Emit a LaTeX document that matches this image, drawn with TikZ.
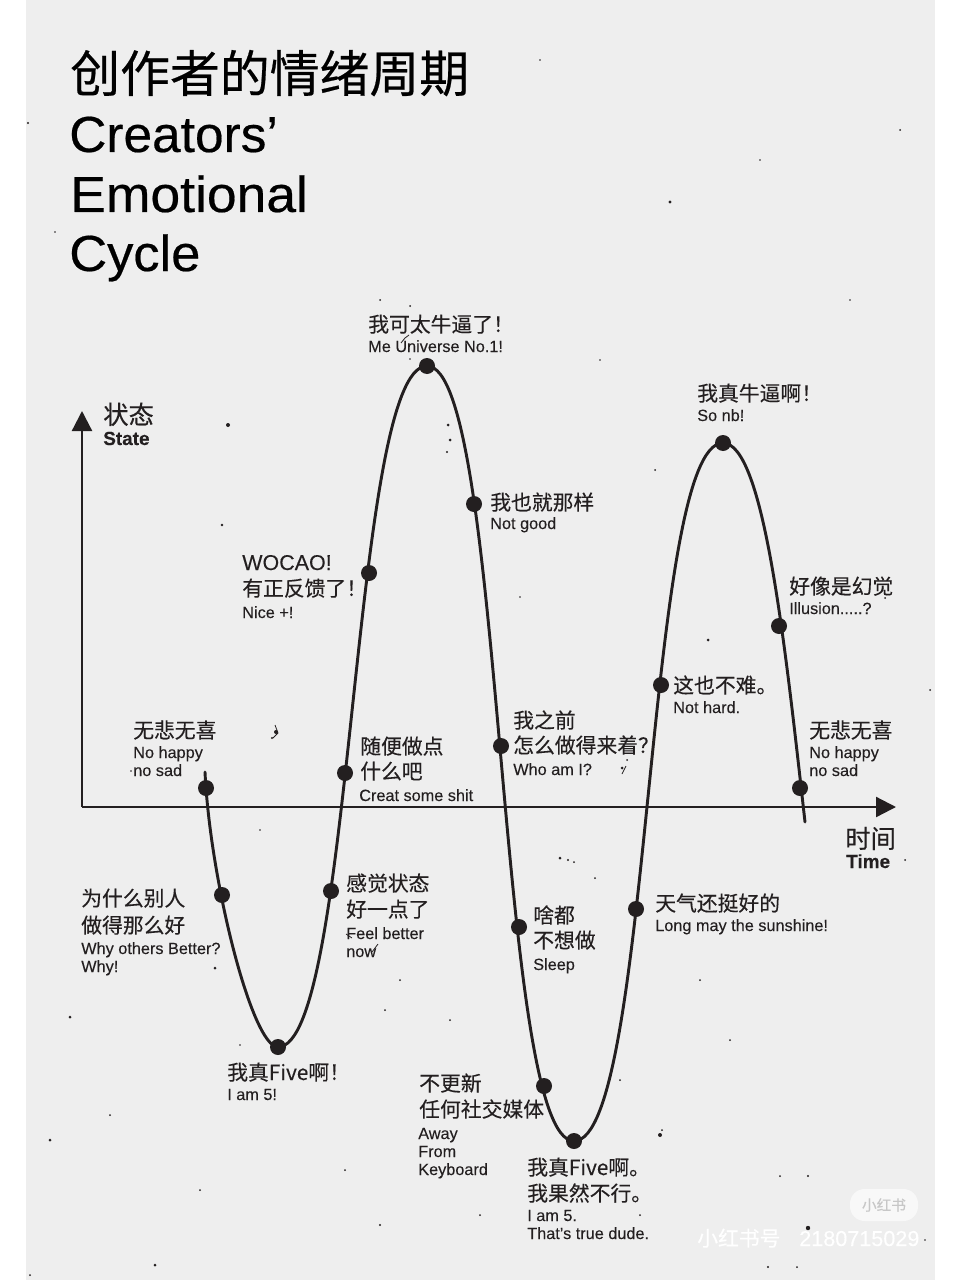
\documentclass[tikz,border=0pt]{standalone}
\usepackage{fontspec}
\setmainfont[FakeBold=0.12]{Liberation Sans}
\newfontfamily\cjk[FakeBold=0.22]{Noto Sans CJK SC}
\newfontfamily\cjktitle[FakeBold=0.45]{Noto Sans CJK SC}
\newfontfamily\entitle[FakeBold=0.4]{Liberation Sans}
\newfontfamily\enbold[FakeBold=0.2]{Liberation Sans Bold}
\usetikzlibrary{arrows.meta}
\definecolor{panel}{HTML}{EEEEEE}
\definecolor{ink}{HTML}{231F20}
\tikzset{
  x=0.75pt,y=-0.75pt,
  zh/.style={anchor=base west,inner sep=0pt,text=ink,font=\cjk\fontsize{15.6pt}{18pt}\selectfont},
  zhl/.style={anchor=base west,inner sep=0pt,text=ink,font=\cjk\fontsize{19pt}{22pt}\selectfont},
  wow/.style={anchor=base west,inner sep=0pt,text=ink,font=\fontsize{16.1pt}{18pt}\selectfont},
  en/.style={anchor=base west,inner sep=0pt,text=ink,font=\fontsize{12.2pt}{14pt}\selectfont},
  enb/.style={anchor=base west,inner sep=0pt,text=ink,font=\enbold\fontsize{14.2pt}{16pt}\selectfont},
  big/.style={anchor=base west,inner sep=0pt,text=black,transform shape,font=\entitle\fontsize{38pt}{44pt}\selectfont},
  bigzh/.style={anchor=base west,inner sep=0pt,text=black,font=\cjktitle\fontsize{37.4pt}{44pt}\selectfont},
  dot/.style={circle,fill=ink,draw=none,minimum size=12pt,inner sep=0pt},
  curve/.style={draw=ink,line width=2.2pt,line cap=round},
  axis/.style={draw=ink,line width=1.7pt,-{Triangle[length=15pt,width=15pt]}},
  speck/.style={fill=ink},
  scratch/.style={draw=ink,line width=0.6pt},
}
\begin{document}
\begin{tikzpicture}
\useasboundingbox (0,0) rectangle (961,1280);
\fill[white] (0,0) rectangle (961,1280);
\fill[panel] (26,0) rectangle (935,1280);

% specks
\foreach \px/\py/\pr in {
 28/123/1.2, 55/232/0.8, 228/425/2, 448/425/1.5, 450/440/1.5, 447/452/1.2, 222/525/1.3, 380/300/1, 410/306/1, 540/60/0.8, 670/202/1.6, 760/160/0.8, 600/360/0.8,
 276/732/2, 272/738/1.2, 622/768/1.5, 627/760/1, 708/640/1.5, 885/598/1, 520/597/0.8, 215/968/1.5, 70/1017/1.5, 560/858/1.5, 568/860/1.2, 574/862/1, 595/878/1,
 50/1140/1.5, 660/1135/2, 662/1130/1, 385/1010/1, 155/1265/1.5, 200/1190/1, 380/1225/1.2, 480/1215/1, 808/1176/1.2, 780/1176/1, 768/1267/1.2, 797/1267/1, 808/1228/2.2,
 700/980/1, 905/860/1, 110/1115/1, 345/1170/1, 620/1080/1, 900/130/1, 850/300/0.8, 655/470/1, 450/1020/1, 30/1275/1, 730/1040/1, 930/690/1, 925/1240/0.8,
 640/1215/1, 240/1045/0.8, 410/880/1, 260/830/0.8, 400/980/1, 131/771/0.8, 410/359/0.8}
 {\fill[speck] (\px,\py) circle[radius=\pr];}
\draw[scratch] (401,343) -- (405,338) -- (409,335);
\draw[scratch] (346,934) -- (352,938);
\draw[scratch] (372,952) -- (378,944);
\draw[scratch] (275,725) -- (278,733) -- (273,738);
\draw[scratch] (622,774) -- (626,766);

% title
\node[bigzh] (t0) at (70,92) {创作者的情绪周期};
\node[big,xscale=1.015] (t1) at (69,152) {Creators’};
\node[big,xscale=1.055] (t2) at (70,212) {Emotional};
\node[big,xscale=1.035] (t3) at (69,271) {Cycle};

% axes
\coordinate (o) at (82,807);
\coordinate (ytip) at (82,411);
\coordinate (xtip) at (896,807);
\draw[axis] (o) -- (ytip);
\draw[axis] (o) -- (xtip);

% curve coordinates
\coordinate (c0) at (205,772);
\coordinate (c1) at (206,788);
\coordinate (c2) at (222,895);
\coordinate (c3) at (278,1047);
\coordinate (c4) at (331,891);
\coordinate (c5) at (345,773);
\coordinate (c6) at (369,573);
\coordinate (c7) at (427,366);
\coordinate (c8) at (474,504);
\coordinate (c9) at (501,746);
\coordinate (c10) at (519,927);
\coordinate (c11) at (544,1086);
\coordinate (c12) at (574,1141);
\coordinate (c13) at (636,909);
\coordinate (c14) at (661,685);
\coordinate (c15) at (723,443);
\coordinate (c16) at (779,626);
\coordinate (c17) at (800,788);
\coordinate (c18) at (805,822);
\draw[curve] (c0) .. controls (210,880) and (252,1047) .. (c3)
  .. controls (354,1047) and (351,366) .. (c7)
  .. controls (505,366) and (496,1141) .. (c12)
  .. controls (652,1141) and (645,443) .. (c15)
  .. controls (764,443) and (785,645) .. (c18);

\foreach \n in {1,2,3,4,5,6,7,8,9,10,11,12,13,14,15,16,17}
  \node[dot] (d\n) at (c\n) {};

% axis labels
\node[zhl] (ys) at (103,424) {状态};
\node[enb] (ye) at (103,445) {State};
\node[zhl] (xs) at (845,848) {时间};
\node[enb] (xe) at (846,868) {Time};

% labels
\node[zh] (l1a) at (133,738) {无悲无喜};
\node[en] (l1b) at (133,758) {No happy};
\node[en] (l1c) at (133,776) {no sad};
\node[zh] (l2a) at (81,906) {为什么别人};
\node[zh] (l2b) at (81,933) {做得那么好};
\node[en] (l2c) at (81,954) {Why others Better?};
\node[en] (l2d) at (81,972) {Why!};
\node[zh] (l3a) at (227,1080) {我真Five啊！};
\node[en] (l3b) at (227,1100) {I am 5!};
\node[zh] (l4a) at (346,891) {感觉状态};
\node[zh] (l4b) at (346,917) {好一点了};
\node[en] (l4c) at (346,939) {Feel better};
\node[en] (l4d) at (346,957) {now};
\node[zh] (l5a) at (360,754) {随便做点};
\node[zh] (l5b) at (360,779) {什么吧};
\node[en] (l5c) at (359,801) {Creat some shit};
\node[wow] (l6a) at (242,570) {WOCAO!};
\node[zh] (l6b) at (242,596) {有正反馈了！};
\node[en] (l6c) at (242,618) {Nice +!};
\node[zh] (l7a) at (368,332) {我可太牛逼了！};
\node[en] (l7b) at (368,352) {Me Universe No.1!};
\node[zh] (l8a) at (490,510) {我也就那样};
\node[en] (l8b) at (490,529) {Not good};
\node[zh] (l9a) at (513,728) {我之前};
\node[zh] (l9b) at (513,753) {怎么做得来着？};
\node[en] (l9c) at (513,775) {Who am I?};
\node[zh] (l10a) at (533,923) {啥都};
\node[zh] (l10b) at (533,948) {不想做};
\node[en] (l10c) at (533,970) {Sleep};
\node[zh] (l11a) at (419,1091) {不更新};
\node[zh] (l11b) at (419,1117) {任何社交媒体};
\node[en] (l11c) at (418,1139) {Away};
\node[en] (l11d) at (418,1157) {From};
\node[en] (l11e) at (418,1175) {Keyboard};
\node[zh] (l12a) at (527,1175) {我真Five啊。};
\node[zh] (l12b) at (527,1201) {我果然不行。};
\node[en] (l12c) at (527,1221) {I am 5.};
\node[en] (l12d) at (527,1239) {That's true dude.};
\node[zh] (l13a) at (655,911) {天气还挺好的};
\node[en] (l13b) at (655,931) {Long may the sunshine!};
\node[zh] (l14a) at (673,693) {这也不难。};
\node[en] (l14b) at (673,713) {Not hard.};
\node[zh] (l15a) at (697,401) {我真牛逼啊！};
\node[en] (l15b) at (697,421) {So nb!};
\node[zh] (l16a) at (789,594) {好像是幻觉};
\node[en] (l16b) at (789,614) {Illusion.....?};
\node[zh] (l17a) at (809,738) {无悲无喜};
\node[en] (l17b) at (809,758) {No happy};
\node[en] (l17c) at (809,776) {no sad};

% watermark
\node[draw=none,fill=white!60!panel,rounded corners=11pt,minimum width=51pt,minimum height=24pt,inner sep=0pt] (wm1) at (884,1205) {};
\node[inner sep=0pt,text=black!22,font=\cjk\fontsize{11pt}{13pt}\selectfont] (wm2) at (884,1205) {小红书};
\node[anchor=base west,inner sep=0pt,text=white,font=\cjk\fontsize{15.6pt}{18pt}\selectfont] (wm3) at (697,1246) {小红书号};
\node[anchor=base west,inner sep=0pt,text=white,font=\fontsize{16.2pt}{18pt}\selectfont] (wm4) at (799,1246) {2180715029};
\end{tikzpicture}
\end{document}
